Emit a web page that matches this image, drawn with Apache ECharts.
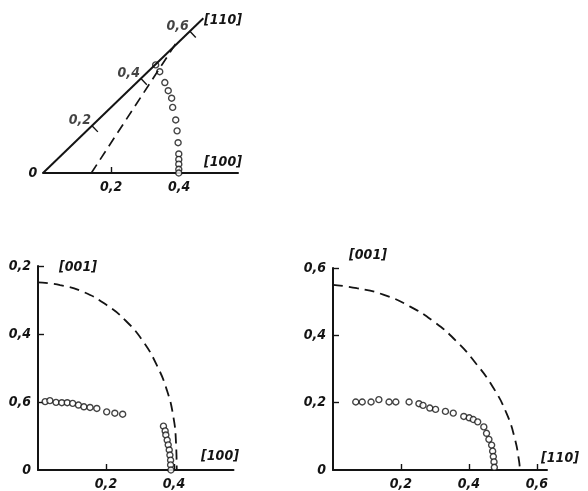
<!DOCTYPE html>
<html lang="ru">
<head>
  <meta charset="utf-8" />
  <script src="https://cdn.jsdelivr.net/npm/echarts@6/dist/echarts.min.js"></script>
</head>
<body style="margin: 0; background: #fff">
  <div id="main" style="width: 588px; height: 491px"></div>
  <script>
    // --- data (units of the figure's axes) ---
    // top panel: section in the (001) plane, [100] horizontal, [110] inclined
    var angle110 = 44; // degrees, as drawn
    var len110 = 0.655;
    var ticks110 = [0.2, 0.4, 0.6];
    var labels110 = ["0,2", "0,4", "0,6"];
    var ticksTop100 = [0.2, 0.4];
    var labelsTop100 = ["0,2", "0,4"];
    var topDots = [
      [0.331, 0.318], [0.343, 0.298], [0.358, 0.266], [0.368, 0.242],
      [0.378, 0.220], [0.381, 0.193], [0.390, 0.156], [0.394, 0.124],
      [0.397, 0.089], [0.399, 0.056], [0.399, 0.040], [0.399, 0.026],
      [0.399, 0.011], [0.399, 0.0]
    ];
    var topDashed = [[0.142, 0.0], [0.393, 0.385]];

    // bottom left: [100] vs [001]
    var leftXTicks = [0.2, 0.4];
    var leftXLabels = ["0,2", "0,4"];
    var leftYTicks = [0, 0.2, 0.4, 0.6];
    var leftYLabels = ["0", "0,6", "0,4", "0,2"];
    var leftRowDots = [
      [0.021, 0.201], [0.035, 0.204], [0.053, 0.199], [0.070, 0.198],
      [0.086, 0.198], [0.102, 0.196], [0.119, 0.191], [0.135, 0.186],
      [0.153, 0.184], [0.173, 0.181], [0.202, 0.171], [0.226, 0.167],
      [0.249, 0.164]
    ];
    var leftColDots = [
      [0.369, 0.129], [0.374, 0.115], [0.376, 0.103], [0.380, 0.088],
      [0.383, 0.074], [0.386, 0.059], [0.388, 0.044], [0.390, 0.029],
      [0.390, 0.015], [0.391, 0.0]
    ];
    var leftArc = [
      [0.0, 0.552], [0.065, 0.544], [0.133, 0.524], [0.202, 0.485],
      [0.261, 0.436], [0.310, 0.377], [0.349, 0.309], [0.379, 0.235],
      [0.398, 0.157], [0.406, 0.078], [0.408, 0.0]
    ];

    // bottom right: [110] vs [001]
    var rightXTicks = [0.2, 0.4, 0.6];
    var rightXLabels = ["0,2", "0,4", "0,6"];
    var rightYTicks = [0, 0.2, 0.4, 0.6];
    var rightYLabels = ["0", "0,2", "0,4", "0,6"];
    var rightDots = [
      [0.067, 0.202], [0.086, 0.202], [0.112, 0.202], [0.135, 0.209],
      [0.165, 0.202], [0.185, 0.202], [0.224, 0.202], [0.253, 0.197],
      [0.265, 0.192], [0.285, 0.184], [0.302, 0.180], [0.331, 0.174],
      [0.354, 0.169], [0.385, 0.159], [0.401, 0.155], [0.413, 0.150],
      [0.426, 0.143], [0.444, 0.128], [0.452, 0.109], [0.459, 0.091],
      [0.467, 0.074], [0.470, 0.056], [0.472, 0.040], [0.474, 0.024],
      [0.475, 0.008]
    ];
    var rightArc = [
      [0.0, 0.550], [0.070, 0.540], [0.148, 0.521], [0.226, 0.486],
      [0.295, 0.442], [0.363, 0.383], [0.422, 0.315], [0.471, 0.246],
      [0.511, 0.168], [0.535, 0.094], [0.548, 0.025], [0.550, 0.0]
    ];

    var ink = "#141414";
    var fontFam = "'DejaVu Sans Condensed', 'DejaVu Sans', sans-serif";
    var labelStyle = { color: ink, fontSize: 14, fontStyle: "italic", fontWeight: "bold", fontFamily: fontFam };

    function pick(ticks, labels) {
      return function (v) {
        for (var i = 0; i < ticks.length; i++) {
          if (Math.abs(ticks[i] - v) < 1e-6) return labels[i];
        }
        return "";
      };
    }

    function valueAxis(grid, max, ticks, labelVals, labels, show) {
      return {
        type: "value",
        gridIndex: grid,
        min: 0,
        max: max,
        show: show,
        axisLine: { show: true, lineStyle: { color: ink, width: 2 } },
        axisTick: { show: true, inside: true, length: 6, customValues: ticks, lineStyle: { color: ink, width: 1.4 } },
        axisLabel: Object.assign({ customValues: labelVals, formatter: pick(labelVals, labels), margin: 7 }, labelStyle),
        splitLine: { show: false }
      };
    }

    var rad = (angle110 * Math.PI) / 180;
    var c = Math.cos(rad), s = Math.sin(rad);
    var tickLen = 0.025;

    var dotStyle = { color: "#fff", borderColor: ink, borderWidth: 1.4 };

    var series = [];
    // [110] axis line in the top panel
    series.push({
      type: "line", xAxisIndex: 0, yAxisIndex: 0, symbol: "none",
      lineStyle: { color: ink, width: 2 },
      data: [[0, 0], [len110 * c, len110 * s]]
    });
    ticks110.forEach(function (t) {
      series.push({
        type: "line", xAxisIndex: 0, yAxisIndex: 0, symbol: "none",
        lineStyle: { color: ink, width: 1.4 },
        data: [[t * c, t * s], [t * c + tickLen * s, t * s - tickLen * c]]
      });
    });
    series.push({
      type: "scatter", xAxisIndex: 0, yAxisIndex: 0, symbolSize: 0,
      data: ticks110.map(function (t, i) { return [t * c, t * s, labels110[i]]; }),
      label: Object.assign({ show: true, position: "left", distance: 3, offset: [2, -5],
        formatter: function (p) { return p.value[2]; } }, labelStyle)
    });
    series.push({
      type: "line", xAxisIndex: 0, yAxisIndex: 0, symbol: "none",
      lineStyle: { color: ink, width: 1.7, type: [10, 6] },
      data: topDashed
    });
    series.push({
      type: "scatter", xAxisIndex: 0, yAxisIndex: 0, symbolSize: 6,
      itemStyle: dotStyle, data: topDots
    });

    // bottom left
    series.push({
      type: "line", xAxisIndex: 1, yAxisIndex: 1, symbol: "none", smooth: true,
      lineStyle: { color: ink, width: 1.8, type: [10, 6] },
      data: leftArc
    });
    series.push({
      type: "scatter", xAxisIndex: 1, yAxisIndex: 1, symbolSize: 6,
      itemStyle: dotStyle, data: leftRowDots.concat(leftColDots)
    });

    // bottom right
    series.push({
      type: "line", xAxisIndex: 2, yAxisIndex: 2, symbol: "none", smooth: true,
      lineStyle: { color: ink, width: 1.8, type: [10, 6] },
      data: rightArc
    });
    series.push({
      type: "scatter", xAxisIndex: 2, yAxisIndex: 2, symbolSize: 6,
      itemStyle: dotStyle, data: rightDots
    });

    function txt(text, x, y) {
      return {
        type: "text", x: x, y: y,
        style: { text: text, fill: ink, font: "italic bold 14px " + fontFam, align: "center", verticalAlign: "middle" }
      };
    }

    var option = {
      backgroundColor: "#fff",
      animation: false,
      grid: [
        { left: 43, top: 3, width: 195, height: 170 },
        { left: 38, top: 266, width: 195.5, height: 204 },
        { left: 333, top: 268, width: 214, height: 204 }
      ],
      xAxis: [
        valueAxis(0, 0.573, ticksTop100, ticksTop100, labelsTop100, true),
        valueAxis(1, 0.575, leftXTicks, leftXTicks, leftXLabels, true),
        valueAxis(2, 0.63, rightXTicks, rightXTicks, rightXLabels, true)
      ],
      yAxis: [
        valueAxis(0, 0.5, [], [], [], false),
        valueAxis(1, 0.6, [0.2, 0.4, 0.6], leftYTicks, leftYLabels, true),
        valueAxis(2, 0.6, [0.2, 0.4, 0.6], rightYTicks, rightYLabels, true)
      ],
      graphic: [
        txt("0", 33, 173),
        txt("[110]", 223, 20),
        txt("[100]", 223, 162),
        txt("[001]", 78, 267),
        txt("[100]", 220, 456),
        txt("[001]", 368, 255),
        txt("[110]", 560, 458)
      ],
      series: series
    };

    var chart = echarts.init(document.getElementById("main"), null, { renderer: "canvas" });
    chart.setOption(option);
  </script>
</body>
</html>
